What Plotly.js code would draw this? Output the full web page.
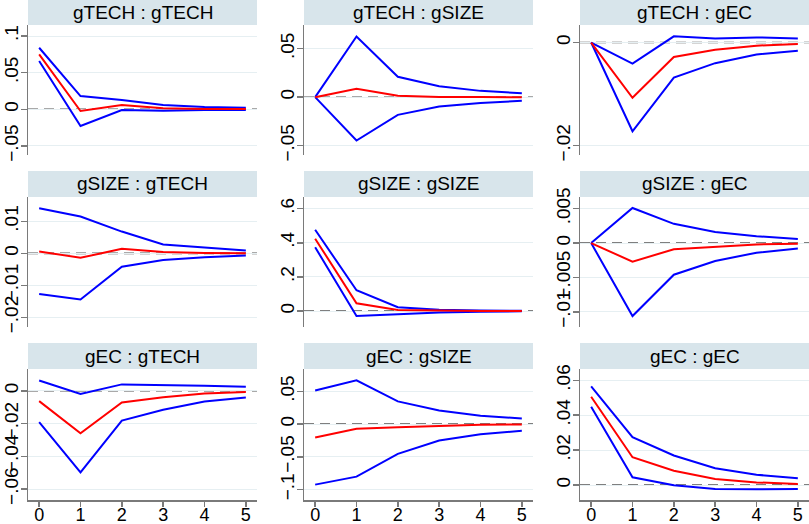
<!DOCTYPE html>
<html>
<head>
<meta charset="utf-8">
<script src="https://cdn.plot.ly/plotly-3.0.1.min.js"></script>
<style>html,body{margin:0;padding:0;background:#fff;}#chart{width:809px;height:524px;}</style>
</head>
<body>
<div id="chart"></div>
<script>
// ---- data ----
const steps = [0, 1, 2, 3, 4, 5];
const panelTitles = ["gTECH : gTECH", "gTECH : gSIZE", "gTECH : gEC",
                     "gSIZE : gTECH", "gSIZE : gSIZE", "gSIZE : gEC",
                     "gEC : gTECH", "gEC : gSIZE", "gEC : gEC"];

// impulse responses (red)
const irf_TECH_TECH = [0.075, -0.0023, 0.006, 0.0014, 0.0005, 0.0003];
const irf_TECH_SIZE = [0, 0.0086, 0.0014, 0.0003, 0.0001, 0];
const irf_TECH_EC   = [0, -0.0107, -0.0028, -0.0014, -0.0006, -0.0003];
const irf_SIZE_TECH = [0.0006, -0.0014, 0.0014, 0.0004, 0.0001, 0];
const irf_SIZE_SIZE = [0.424, 0.046, 0.006, 0.002, 0.001, 0];
const irf_SIZE_EC   = [0, -0.0027, -0.0009, -0.0005, -0.0002, -0.0001];
const irf_EC_TECH   = [-0.0063, -0.0259, -0.0071, -0.0039, -0.0016, -0.0008];
const irf_EC_SIZE   = [-0.0204, -0.0071, -0.0046, -0.0026, -0.001, -0.0005];
const irf_EC_EC     = [0.0506, 0.0159, 0.0082, 0.0035, 0.0015, 0.0006];

// upper confidence bounds (blue)
const hi_TECH_TECH = [0.084, 0.018, 0.0127, 0.006, 0.003, 0.002];
const hi_TECH_SIZE = [0, 0.0625, 0.021, 0.0113, 0.0065, 0.004];
const hi_TECH_EC   = [0, -0.0041, 0.0012, 0.0008, 0.001, 0.0008];
const hi_SIZE_TECH = [0.0141, 0.0115, 0.0068, 0.0028, 0.0018, 0.0009];
const hi_SIZE_SIZE = [0.476, 0.122, 0.023, 0.008, 0.004, 0.002];
const hi_SIZE_EC   = [0, 0.0051, 0.0028, 0.0016, 0.001, 0.0006];
const hi_EC_TECH   = [0.0063, -0.002, 0.0039, 0.0037, 0.0031, 0.0024];
const hi_EC_SIZE   = [0.0515, 0.0668, 0.0347, 0.0209, 0.0128, 0.0087];
const hi_EC_EC     = [0.0566, 0.0274, 0.0169, 0.0096, 0.0059, 0.0038];

// lower confidence bounds (blue)
const lo_TECH_TECH = [0.066, -0.0227, -0.001, -0.002, -0.001, -0.0008];
const lo_TECH_SIZE = [0, -0.0447, -0.0182, -0.0096, -0.006, -0.0038];
const lo_TECH_EC   = [0, -0.0172, -0.0068, -0.004, -0.0023, -0.0016];
const lo_SIZE_TECH = [-0.0127, -0.0144, -0.0042, -0.0021, -0.0012, -0.0007];
const lo_SIZE_SIZE = [0.374, -0.029, -0.019, -0.008, -0.003, -0.001];
const lo_SIZE_EC   = [0, -0.0106, -0.0046, -0.0026, -0.0014, -0.0008];
const lo_EC_TECH   = [-0.0192, -0.0498, -0.0182, -0.0116, -0.0065, -0.0041];
const lo_EC_SIZE   = [-0.0923, -0.0801, -0.0454, -0.025, -0.0153, -0.0102];
const lo_EC_EC     = [0.0449, 0.0044, -0.0002, -0.0023, -0.0025, -0.0023];

// y tick values and labels per panel
const yTickVals = [
  [-0.05, 0, 0.05, 0.1], [-0.05, 0, 0.05], [-0.02, 0],
  [-0.02, -0.01, 0, 0.01], [0, 0.2, 0.4, 0.6], [-0.01, -0.005, 0, 0.005],
  [-0.06, -0.04, -0.02, 0], [-0.1, -0.05, 0, 0.05], [0, 0.02, 0.04, 0.06]
];
const yTickText = [
  ["\u2212.05", "0", ".05", ".1"], ["\u2212.05", "0", ".05"], ["\u2212.02", "0"],
  ["\u2212.02", "\u2212.01", "0", ".01"], ["0", ".2", ".4", ".6"], ["\u2212.01", "\u2212.005", "0", ".005"],
  ["\u2212.06", "\u2212.04", "\u2212.02", "0"], ["\u2212.1", "\u2212.05", "0", ".05"], ["0", ".02", ".04", ".06"]
];
const yRanges = [
  [-0.0623, 0.115], [-0.0596, 0.0744], [-0.0218, 0.0034],
  [-0.023, 0.0176], [-0.093, 0.668], [-0.0122, 0.0067],
  [-0.0667, 0.0133], [-0.1158, 0.0842], [-0.0086, 0.0665]
];
const xTickVals = [0, 1, 2, 3, 4, 5];
const xTickText = ["0", "1", "2", "3", "4", "5"];

const irfs = [irf_TECH_TECH, irf_TECH_SIZE, irf_TECH_EC, irf_SIZE_TECH, irf_SIZE_SIZE, irf_SIZE_EC, irf_EC_TECH, irf_EC_SIZE, irf_EC_EC];
const his  = [hi_TECH_TECH, hi_TECH_SIZE, hi_TECH_EC, hi_SIZE_TECH, hi_SIZE_SIZE, hi_SIZE_EC, hi_EC_TECH, hi_EC_SIZE, hi_EC_EC];
const los  = [lo_TECH_TECH, lo_TECH_SIZE, lo_TECH_EC, lo_SIZE_TECH, lo_SIZE_SIZE, lo_SIZE_EC, lo_EC_TECH, lo_EC_SIZE, lo_EC_EC];

// ---- layout geometry (pixels) ----
const W = 809, H = 524;
const colPx = [[28, 257], [304, 533], [580, 809]];
const rowPx = [[25, 155], [197, 327], [369, 500]];
const headPx = [[0, 25], [171, 197], [343, 369]];
const px2x = p => p / W;
const px2y = p => 1 - p / H;

const FONT = "Liberation Sans, Arial, Helvetica, sans-serif";
const AXC = "#7a7a7a";
const GRID = "#e6eff2";
const HEAD = "#d8e5eb";

const traces = [];
const layout = {
  width: W, height: H,
  margin: {l: 0, r: 0, t: 0, b: 0},
  paper_bgcolor: "#ffffff",
  plot_bgcolor: "#ffffff",
  showlegend: false,
  font: {family: FONT, color: "#000"},
  shapes: [],
  annotations: []
};

for (let i = 0; i < 9; i++) {
  const r = Math.floor(i / 3), c = i % 3;
  const n = i + 1;
  const xa = n === 1 ? "x" : "x" + n;
  const ya = n === 1 ? "y" : "y" + n;
  const xk = n === 1 ? "xaxis" : "xaxis" + n;
  const yk = n === 1 ? "yaxis" : "yaxis" + n;
  const bottom = r === 2;

  layout[xk] = {
    domain: [px2x(colPx[c][0]), px2x(colPx[c][1])],
    anchor: ya,
    range: [-0.27, 5.27],
    showgrid: false, zeroline: false,
    showline: bottom, linecolor: AXC, linewidth: 1.5,
    ticks: bottom ? "outside" : "", ticklen: 5, tickwidth: 1.5, tickcolor: AXC,
    tickvals: bottom ? xTickVals : [], ticktext: bottom ? xTickText : [],
    showticklabels: bottom,
    ticklabelstandoff: -7,
    tickfont: {family: FONT, size: 18, color: "#000"},
    fixedrange: true
  };
  layout[yk] = {
    domain: [px2y(rowPx[r][1]), px2y(rowPx[r][0])],
    anchor: xa,
    range: yRanges[i],
    showgrid: true, gridcolor: GRID, gridwidth: 1,
    zeroline: false,
    showline: true, linecolor: AXC, linewidth: 1.5,
    ticks: "outside", ticklen: 6, tickwidth: 1.5, tickcolor: AXC,
    tickvals: yTickVals[i], ticktext: yTickText[i],
    tickangle: -90,
    ticklabelstandoff: -5,
    tickfont: {family: FONT, size: 19, color: "#000"},
    fixedrange: true
  };

  // zero reference line
  layout.shapes.push({
    type: "line", xref: xa + " domain", yref: ya,
    x0: 0, x1: 1, y0: 0, y1: 0,
    line: {color: "#555555", width: 1.6, dash: "10px,6px"},
    layer: "below"
  });
  // header strip
  layout.shapes.push({
    type: "rect", xref: "paper", yref: "paper",
    x0: px2x(colPx[c][0]), x1: px2x(colPx[c][1]),
    y0: px2y(headPx[r][1]), y1: px2y(headPx[r][0]),
    fillcolor: HEAD, line: {width: 0}, layer: "below"
  });
  layout.annotations.push({
    xref: "paper", yref: "paper",
    x: px2x((colPx[c][0] + colPx[c][1]) / 2),
    y: px2y((headPx[r][0] + headPx[r][1]) / 2),
    xanchor: "center", yanchor: "middle",
    text: panelTitles[i], showarrow: false,
    font: {family: FONT, size: 19, color: "#000"}
  });

  traces.push({x: steps, y: his[i], xaxis: xa, yaxis: ya, type: "scatter", mode: "lines",
               line: {color: "#0000ff", width: 2}, hoverinfo: "skip"});
  traces.push({x: steps, y: los[i], xaxis: xa, yaxis: ya, type: "scatter", mode: "lines",
               line: {color: "#0000ff", width: 2}, hoverinfo: "skip"});
  traces.push({x: steps, y: irfs[i], xaxis: xa, yaxis: ya, type: "scatter", mode: "lines",
               line: {color: "#ff0000", width: 2}, hoverinfo: "skip"});
}

Plotly.newPlot("chart", traces, layout, {displayModeBar: false, staticPlot: true});
</script>
</body>
</html>
